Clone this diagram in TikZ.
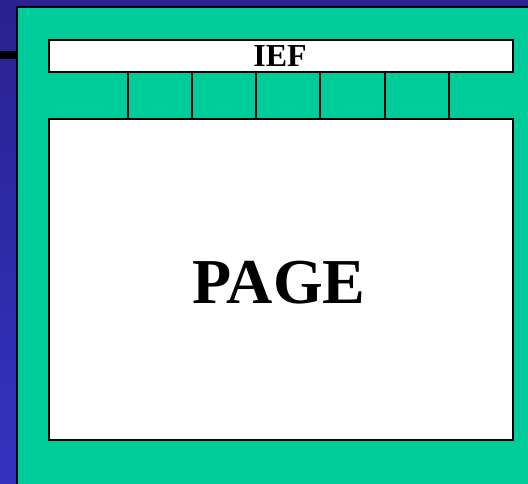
\documentclass[tikz,border=0pt]{standalone}
\usepackage{fontspec}
\setmainfont{Liberation Serif}
\begin{document}
\begin{tikzpicture}[x=1pt,y=1pt,
  box/.style={draw=black,line width=2pt,fill=white,inner sep=0pt,anchor=north west},
  divider/.style={draw=black,line width=2pt}]
\definecolor{bgtop}{RGB}{41,34,143}
\definecolor{bgbot}{RGB}{51,51,192}
\definecolor{slidegreen}{RGB}{0,204,153}
\useasboundingbox (0,0) rectangle (528,484);
\shade[top color=bgtop,bottom color=bgbot] (0,0) rectangle (528,484);
\fill[black] (0,425) rectangle (17,433);
\path[fill=slidegreen,draw=black,line width=2pt] (17,-5) rectangle (535,477);
\node[box,minimum width=464pt,minimum height=32pt] (ief) at (48,445) {};
\node[font=\bfseries\fontsize{32}{32}\selectfont,inner sep=0pt] (ieftext) at (280,428) {IEF};
\node[box,minimum width=464pt,minimum height=321pt] (page) at (48,366) {};
\node[font=\bfseries\fontsize{64}{64}\selectfont,inner sep=0pt] (pagetext) at (279,201) {PAGE};
\foreach \dx in {80,144,208,272,337,401}{
  \draw[divider] ([xshift=\dx pt]ief.south west) -- ([xshift=\dx pt]page.north west);
}
\end{tikzpicture}
\end{document}
